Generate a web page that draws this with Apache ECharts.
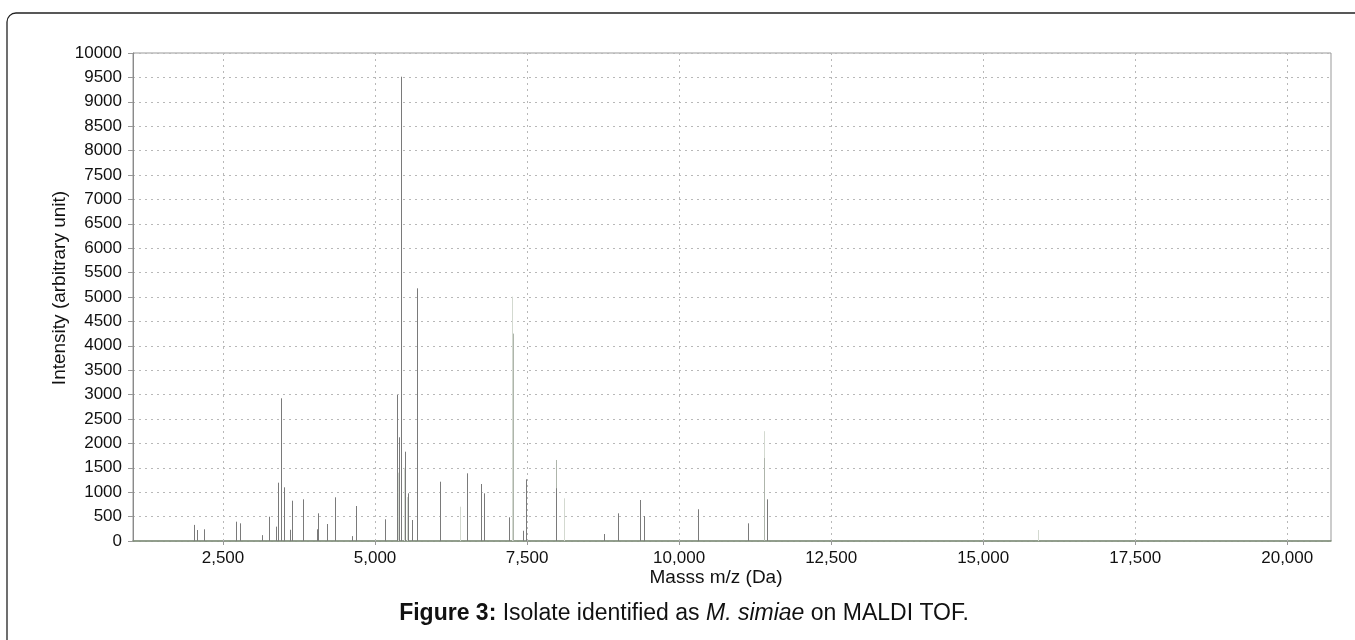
<!DOCTYPE html>
<html>
<head>
<meta charset="utf-8">
<script src="https://cdn.jsdelivr.net/npm/echarts@6/dist/echarts.min.js"></script>
<style>
html,body{margin:0;padding:0;background:#fff;}
#chart{width:1355px;height:640px;}
</style>
</head>
<body>
<div id="chart"></div>
<script>
// m/z (Da) and intensity of the darker spectrum peaks
const peakMz = [2028, 2072, 2188, 2714, 2780, 3137, 3262, 3372, 3400, 3454, 3508, 3607, 3635, 3811, 4041, 4062, 4206, 4342, 4617, 4688,
  5164, 5357, 5400, 5423, 5498, 5548, 5604, 5696, 6069, 6518, 6743, 6798, 7209, 7439, 7484, 7977, 8771, 9002, 9364, 9424, 10312, 11140, 11443];
const peakIntensity = [330, 225, 240, 396, 362, 120, 498, 294, 1195, 2924, 1100, 230, 826, 854, 240, 567, 348, 895, 100, 717,
  445, 2992, 2125, 9514, 1830, 977, 430, 5178, 1215, 1387, 1168, 977, 485, 210, 1264, 1080, 143, 567, 840, 512, 650, 362, 854];
// medium-light peaks
const midMz = [7262, 7977, 11390];
const midIntensity = [4250, 1660, 1700];
// faint (light gray) peaks
const faintMz = [5380, 5470, 5520, 6398, 7248, 7270, 8109, 11388, 15900];
const faintIntensity = [1400, 1500, 900, 703, 5006, 380, 875, 2250, 225];
// x tick values
const xTicks = [2500, 5000, 7500, 10000, 12500, 15000, 17500, 20000];

const chart = echarts.init(document.getElementById('chart'));
const FONT = '"Liberation Sans", Arial, sans-serif';

function stickSeries(name, xs, ys, color, z) {
  return {
    type: 'custom',
    name: name,
    z: z,
    data: xs.map((x, i) => [x, ys[i]]),
    encode: {x: 0, y: 1},
    renderItem: function (params, api) {
      const top = api.coord([api.value(0), api.value(1)]);
      const base = api.coord([api.value(0), 0]);
      return {
        type: 'line',
        shape: {x1: Math.round(top[0]) + 0.5, y1: top[1], x2: Math.round(base[0]) + 0.5, y2: base[1]},
        style: {stroke: color, lineWidth: 1}
      };
    }
  };
}

const option = {
  animation: false,
  backgroundColor: '#fff',
  grid: {left: 133, right: 24, top: 53, bottom: 99, show: true, borderColor: '#999', borderWidth: 1},
  xAxis: {
    type: 'value',
    min: 1020, max: 20720,
    axisLine: {show: true, lineStyle: {color: '#7f8f78', width: 1.5}},
    axisTick: {show: true, customValues: xTicks, length: 4, lineStyle: {color: '#999'}},
    axisLabel: {customValues: xTicks, color: '#111', fontFamily: FONT, fontSize: 17, margin: 9,
      formatter: v => v.toLocaleString('en-US')},
    splitLine: {show: false}
  },
  yAxis: {
    type: 'value',
    min: 0, max: 10000, interval: 500,
    axisLine: {show: true, lineStyle: {color: '#8a8a8a'}},
    axisTick: {show: true, length: 5, lineStyle: {color: '#999'}},
    axisLabel: {color: '#111', fontFamily: FONT, fontSize: 17, margin: 11, formatter: v => String(v)},
    splitLine: {show: true, lineStyle: {color: '#b8b8b8', type: [2, 4], width: 1}}
  },
  series: [
    {
      type: 'line',
      data: [],
      silent: true,
      markLine: {
        silent: true,
        symbol: 'none',
        label: {show: false},
        lineStyle: {color: '#b8b8b8', type: [2, 4], width: 1},
        data: xTicks.map(v => ({xAxis: v}))
      }
    },
    stickSeries('faint', faintMz, faintIntensity, '#d3d9d0', 2),
    stickSeries('mid', midMz, midIntensity, '#aeb5ab', 3),
    stickSeries('peaks', peakMz, peakIntensity, '#7a7a7a', 4)
  ],
  graphic: [
    {
      type: 'rect',
      shape: {x: 7, y: 13, width: 1400, height: 700, r: 9},
      style: {fill: 'none', stroke: '#222', lineWidth: 1.3},
      silent: true
    },
    {
      type: 'text',
      x: 60, y: 288,
      rotation: Math.PI / 2,
      style: {
        text: 'Intensity (arbitrary unit)',
        align: 'center', verticalAlign: 'middle',
        fontFamily: FONT, fontSize: 19, fill: '#111'
      }
    },
    {
      type: 'text',
      x: 716, y: 578,
      style: {
        text: 'Masss m/z (Da)',
        align: 'center', verticalAlign: 'middle',
        fontFamily: FONT, fontSize: 19, fill: '#111'
      }
    },
    {
      type: 'text',
      x: 684, y: 614,
      style: {
        text: '{b|Figure 3:} Isolate identified as {i|M. simiae} on MALDI TOF.',
        align: 'center', verticalAlign: 'middle',
        fontFamily: FONT, fontSize: 23, fill: '#111',
        rich: {
          b: {fontWeight: 'bold', fontFamily: FONT, fontSize: 23, fill: '#111'},
          i: {fontStyle: 'italic', fontFamily: FONT, fontSize: 23, fill: '#111'}
        }
      }
    }
  ]
};
chart.setOption(option);
</script>
</body>
</html>
